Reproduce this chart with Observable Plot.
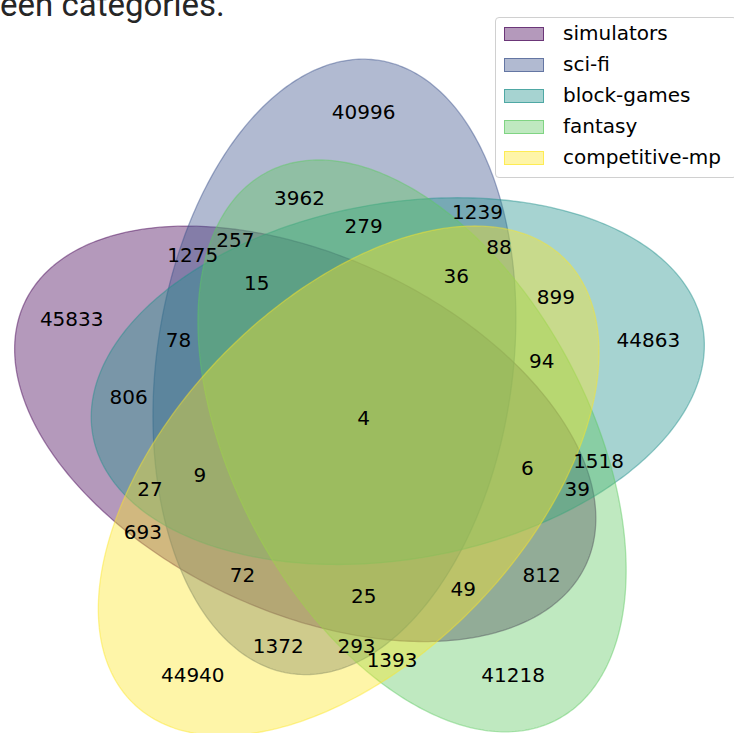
<!DOCTYPE html>
<html><head><meta charset="utf-8">
<script src="https://cdn.jsdelivr.net/npm/d3@7"></script>
<script src="https://cdn.jsdelivr.net/npm/@observablehq/plot@0.6"></script>
<style>
html,body{margin:0;padding:0;background:#fff;}
#wrap{position:relative;width:734px;height:733px;overflow:hidden;}
#title{position:absolute;left:0;top:-15px;font-size:33px;font-family:"Liberation Sans Narrow","Roboto",sans-serif;line-height:40px;color:#262626;white-space:nowrap;}
#legend{position:absolute;left:495px;top:17px;width:242px;height:161px;box-sizing:border-box;border:1px solid #d0d0d0;border-radius:4px;background:rgba(255,255,255,0.8);font-family:"DejaVu Sans";font-size:20px;color:#000;}
.row{position:absolute;left:0;height:31px;width:100%;}
.sw{position:absolute;left:8px;top:9px;width:40px;height:14px;box-sizing:border-box;}
.lb{position:absolute;left:67px;top:2px;line-height:26px;white-space:nowrap;}
</style>
</head><body>
<div id="wrap"><div id="chart"></div><div id="title"></div><div id="legend"></div></div>
<script>
// ---- data ----
const setNames = ["simulators", "sci-fi", "block-games", "fantasy", "competitive-mp"];
const setColors = ["#440154", "#3b528b", "#21918c", "#5ec962", "#fde725"];
const regionCodes = ["10000","01000","00100","00010","00001",
  "11000","10100","10010","10001","01100","01010","01001","00110","00101","00011",
  "11100","11010","11001","10110","10101","10011","01110","01101","01011","00111",
  "11110","11101","11011","10111","01111","11111"];
const regionCounts = [45833,40996,44863,41218,44940,
  1275,806,812,693,1239,3962,1372,1518,899,1393,
  78,257,72,39,27,49,279,88,293,94,
  15,9,25,6,36,4];
const titleText = "een categories.";

// ---- layout (5-set ellipse Venn geometry, unit square) ----
const ellipseCx = [0.428, 0.469, 0.558, 0.578, 0.489];
const ellipseCy = [0.449, 0.543, 0.523, 0.432, 0.383];
const ellipseW = 0.87, ellipseH = 0.50;
const ellipseAngle = [155, 82, 10, 118, 46];
const labelPos = {
  "00001":[0.27,0.11],"00010":[0.72,0.11],"00011":[0.55,0.13],"00100":[0.91,0.58],
  "00101":[0.78,0.64],"00110":[0.84,0.41],"00111":[0.76,0.55],"01000":[0.51,0.90],
  "01001":[0.39,0.15],"01010":[0.42,0.78],"01011":[0.50,0.15],"01100":[0.67,0.76],
  "01101":[0.70,0.71],"01110":[0.51,0.74],"01111":[0.64,0.67],"10000":[0.10,0.61],
  "10001":[0.20,0.31],"10010":[0.76,0.25],"10011":[0.65,0.23],"10100":[0.18,0.50],
  "10101":[0.21,0.37],"10110":[0.81,0.37],"10111":[0.74,0.40],"11000":[0.27,0.70],
  "11001":[0.34,0.25],"11010":[0.33,0.72],"11011":[0.51,0.22],"11100":[0.25,0.58],
  "11101":[0.28,0.39],"11110":[0.36,0.66],"11111":[0.51,0.47]
};

const W = 734, H = 733, PX = 712, Y0 = 753;

const outline = [];
setNames.forEach((name, i) => {
  const a = ellipseW / 2, b = ellipseH / 2, th = ellipseAngle[i] * Math.PI / 180;
  for (let k = 0; k < 360; k++) {
    const t = k * Math.PI / 180;
    outline.push({set: name,
      x: ellipseCx[i] + a * Math.cos(t) * Math.cos(th) - b * Math.sin(t) * Math.sin(th),
      y: ellipseCy[i] + a * Math.cos(t) * Math.sin(th) + b * Math.sin(t) * Math.cos(th)});
  }
});
const labels = regionCodes.map((c, i) => ({code: c, count: regionCounts[i], x: labelPos[c][0], y: labelPos[c][1]}));

const chart = Plot.plot({
  width: W, height: H, margin: 0,
  x: {domain: [0, W / PX], range: [0, W], axis: null},
  y: {domain: [(Y0 - H) / PX, Y0 / PX], range: [H, 0], axis: null},
  color: {domain: setNames, range: setColors},
  style: {background: "white"},
  marks: [
    Plot.line(outline, {x: "x", y: "y", z: "set", fill: "set", stroke: "set",
      fillOpacity: 0.4, strokeOpacity: 0.45, strokeWidth: 1.3, curve: "linear-closed"}),
    Plot.text(labels, {x: "x", y: "y", text: d => String(d.count), fill: "black",
      fontSize: 20, fontFamily: "DejaVu Sans"})
  ]
});
document.getElementById("chart").appendChild(chart);
document.getElementById("title").textContent = titleText;

const leg = document.getElementById("legend");
setNames.forEach((n, i) => {
  const row = document.createElement("div");
  row.className = "row"; row.style.top = (i * 31) + "px";
  const sw = document.createElement("div");
  sw.className = "sw";
  const c = d3.color(setColors[i]);
  sw.style.background = `rgba(${c.r},${c.g},${c.b},0.4)`;
  sw.style.border = `1.5px solid rgba(${c.r},${c.g},${c.b},0.65)`;
  const lb = document.createElement("div");
  lb.className = "lb"; lb.textContent = n;
  row.appendChild(sw); row.appendChild(lb); leg.appendChild(row);
});
</script>
</body></html>
